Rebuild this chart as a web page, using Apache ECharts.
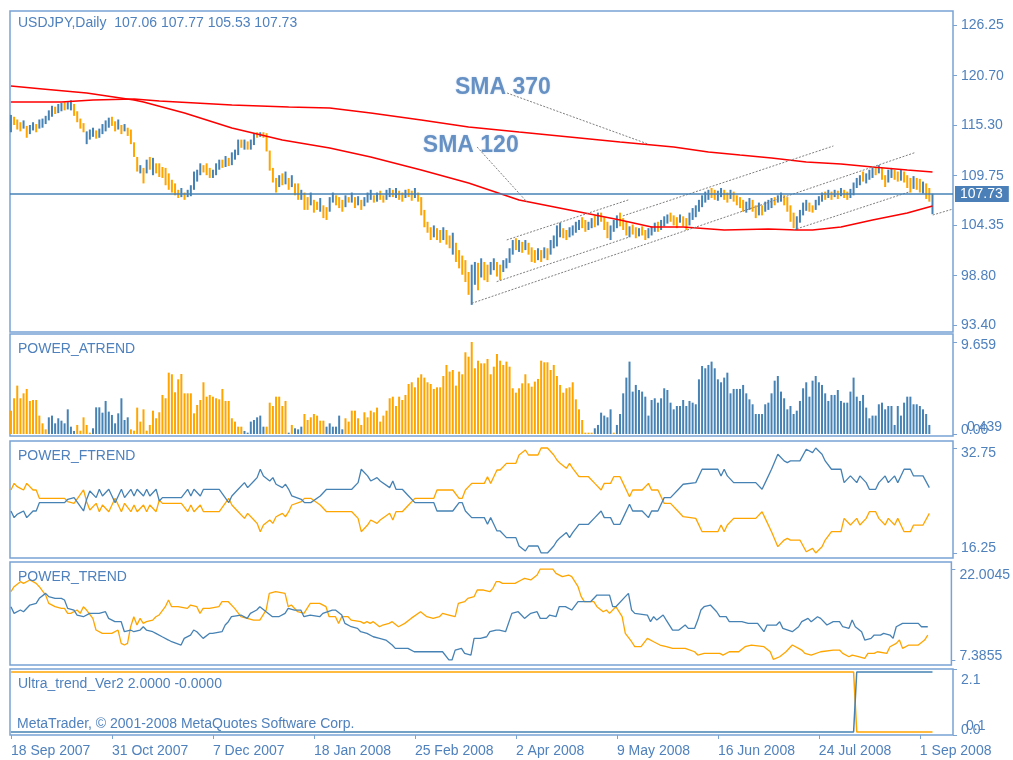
<!DOCTYPE html>
<html>
<head>
<meta charset="utf-8">
<title>USDJPY Daily</title>
<script src="https://cdn.jsdelivr.net/npm/echarts@6.0.0/dist/echarts.min.js"></script>
<style>
html, body { margin: 0; padding: 0; background: #fff; }
#chart { width: 1013px; height: 760px; }
</style>
</head>
<body>
<div id="chart"></div>
<script>
// ---- price bars (bar index 0..292) ----
var priceHigh = [
  116.4,116.2,115.9,115.6,115.8,115.2,115.3,115.6,115.4,115.9,
  116.0,116.3,116.9,117.4,117.3,117.6,117.7,117.8,117.8,118.0,
  117.6,116.8,116.0,115.5,114.6,114.8,115.0,114.7,114.9,115.4,
  115.8,116.1,116.2,115.7,115.9,115.3,115.4,115.0,114.8,113.4,
  111.8,110.9,110.6,111.5,111.8,111.7,111.1,111.1,110.7,110.6,
  110.0,109.3,108.9,108.2,108.4,107.9,108.2,108.7,110.2,110.4,
  111.1,110.9,111.1,110.6,110.4,111.1,111.5,111.5,111.9,111.7,
  112.3,112.6,113.7,113.7,113.7,113.5,113.7,114.4,114.5,114.5,
  114.5,114.4,112.5,110.6,109.5,109.8,110.0,110.2,109.5,109.8,
  108.9,108.9,108.2,107.9,107.4,107.9,107.1,106.9,107.3,106.5,
  106.3,107.4,107.9,107.6,107.4,107.1,107.6,107.4,107.9,107.4,
  107.5,107.1,107.4,107.9,108.2,107.6,107.9,108.1,107.6,108.2,
  108.4,108.2,108.4,108.1,107.9,108.2,108.3,108.1,108.4,107.9,
  107.4,106.0,104.7,104.1,104.3,104.0,103.8,104.1,103.8,103.2,
  103.5,102.4,101.6,101.0,100.5,99.2,100.0,100.3,100.2,100.7,
  100.3,100.0,100.3,100.7,100.3,100.0,100.5,100.7,101.8,102.7,
  102.9,102.7,102.5,102.7,102.4,101.9,101.6,101.8,101.6,101.9,
  101.8,102.7,103.2,104.3,104.6,104.0,103.8,104.1,104.3,104.7,
  104.9,105.2,104.9,104.7,105.1,105.4,105.7,105.7,105.2,104.7,
  104.3,104.9,105.4,105.7,105.1,104.7,104.2,104.4,104.1,104.0,
  104.2,103.8,104.0,104.2,104.6,104.7,104.9,105.3,105.5,105.7,
  105.4,105.2,105.5,105.3,105.1,105.7,106.2,106.5,107.1,107.6,
  108.0,108.2,108.4,108.2,108.1,108.4,108.2,107.9,108.2,108.0,
  107.6,107.4,107.1,106.9,107.3,107.1,106.5,106.8,106.5,106.9,
  107.1,107.3,107.4,107.6,107.9,107.6,107.4,106.5,105.7,105.3,
  106.0,106.8,107.1,106.8,106.5,107.1,107.5,107.9,108.0,108.2,
  108.0,108.2,108.1,108.4,108.2,108.0,108.3,109.0,109.5,109.8,
  110.2,110.0,110.4,110.6,110.7,110.9,110.6,109.8,110.4,110.6,
  110.4,110.2,110.4,110.2,109.8,109.5,109.7,109.5,109.4,109.1,
  108.9,108.4,107.77
];
var priceLow = [
  114.5,115.3,114.8,114.6,114.9,113.9,114.3,114.7,114.5,114.9,
  115.0,115.4,115.8,116.2,116.5,116.6,116.8,116.9,117.0,116.9,
  116.3,115.6,114.9,114.5,113.2,113.7,114.0,113.8,113.9,114.3,
  114.6,115.0,115.2,114.6,114.8,114.3,114.6,114.1,113.2,111.8,
  110.2,110.0,108.9,110.0,110.4,109.8,110.0,109.6,109.5,108.7,
  108.2,107.9,107.6,107.3,107.4,107.1,107.4,107.5,108.2,109.1,
  109.8,110.1,109.8,109.5,109.5,109.8,110.4,110.6,110.7,110.8,
  110.9,111.5,112.0,112.8,112.6,112.6,112.6,113.1,113.9,114.0,
  113.9,112.4,110.3,109.0,107.9,108.5,108.7,108.8,108.2,108.5,
  107.6,107.1,107.1,106.0,106.0,106.5,105.7,106.0,105.8,105.1,
  104.9,105.8,106.8,106.5,106.2,105.8,106.3,106.8,106.8,106.2,
  106.5,106.0,106.4,106.8,107.1,106.8,106.9,107.1,106.8,107.1,
  107.4,107.4,107.3,107.1,106.9,107.3,107.4,107.0,107.3,106.9,
  105.4,104.1,103.5,102.7,103.0,102.7,102.4,102.7,102.2,101.8,
  101.1,100.3,99.6,98.9,98.1,96.7,95.6,97.8,97.2,98.6,
  98.3,98.1,98.9,99.4,98.7,98.3,99.2,99.6,100.2,101.1,
  101.6,101.4,101.3,101.6,101.1,100.3,100.2,100.5,100.3,100.7,
  100.5,101.1,101.8,102.0,103.0,102.9,102.7,103.0,103.2,103.5,
  103.8,104.0,103.6,103.8,104.0,104.1,104.3,104.7,103.8,102.9,
  102.7,103.6,104.0,104.2,103.8,103.2,103.0,103.3,102.9,103.1,
  103.2,102.7,102.9,103.2,103.6,103.6,103.8,104.2,104.5,104.7,
  104.3,104.0,104.6,104.2,103.8,104.3,104.9,105.2,105.8,106.3,
  106.8,107.1,107.3,107.1,107.0,107.4,107.1,106.8,107.2,106.9,
  106.5,106.2,105.8,105.7,106.0,105.8,105.1,105.4,105.4,105.8,
  106.0,106.2,106.5,106.8,106.9,106.5,105.8,104.7,104.0,103.8,
  104.6,105.4,105.9,105.8,105.7,106.0,106.5,106.9,107.1,107.3,
  107.1,107.4,107.2,107.5,107.3,107.1,107.3,107.6,108.4,108.7,
  109.1,108.9,109.3,109.5,109.8,110.0,109.3,108.5,109.0,109.5,
  109.3,109.1,109.2,109.0,108.4,107.9,108.3,108.2,107.9,107.8,
  107.2,106.9,105.53
];
// u = bar closed up (blue), d = bar closed down (orange)
var barDir = [
  'uddduduudu','uuuuduuduu','dddduuuduu','uuddududdd','dudududddd',
  'dddduduuuu','uddduuudud','uuududuudu','dddddududu','ddudduddud',
  'duudddudud','uduuududdu','ududduddud','dddduddudd','uddddduudu',
  'dduudduuuu','dududddudu','duuuudduuu','udduududdd','uuuddduddu',
  'dduuuduuud','ddudduuuuu','uudduuddud','ddduuddudu','uuduuddddu',
  'uuudduuudu','dududduuuu','duuududduu','dduddduddu','ddu'
].join('');
var bidPrice = 107.73;

// moving averages (bar index / price)
var sma120Idx = [0,10,24,39,42,55,70,86,101,114,130,145,161,177,193,203,213,226,240,249,254,263,273,284,292];
var sma120 = [119.57,119.24,118.80,118.04,117.82,116.61,114.97,113.66,112.78,111.80,110.37,108.95,107.09,105.99,104.90,104.13,104.13,103.80,103.91,103.80,103.80,104.13,104.90,105.66,106.43];
var sma370Idx = [0,16,26,39,47,70,88,101,114,130,145,161,177,193,210,221,231,241,252,263,273,284,292];
var sma370 = [117.82,117.82,118.04,118.15,117.93,117.49,117.27,117.16,116.61,115.85,115.08,114.53,113.99,113.44,112.89,112.34,112.01,111.69,111.25,111.03,110.70,110.37,110.15];

// drawn trend lines: [fromIdx, fromPrice, toIdx, toPrice]
var channelLines = [
  [157.1,102.71,195.6,107.09],
  [153.9,98.14,195.5,102.98],
  [146.0,95.77,286.4,112.27],
  [193.9,105.34,260.6,113.00],
  [247.9,103.80,284.9,108.00],
  [292.1,105.44,298.5,106.10],
  [157.2,118.80,201.8,113.22],
  [147.7,112.89,163.5,106.87]
];
var noteText = ['SMA 370', 'SMA 120'];
var noteIdx = [140.7, 130.5];
var notePrice = [119.35, 113.0];

// POWER_ATREND histogram: positive = orange buffer, negative = blue buffer
var atrend = [
  2.45,3.75,5.08,3.75,4.27,4.73,3.47,3.57,3.57,1.93,
  1.12,0.49,-1.75,-1.93,-1.12,-1.65,-1.40,-1.12,-2.59,-0.77,
  -0.32,0.95,0.35,1.75,0.95,0.14,-0.60,-2.80,-2.80,-2.24,
  -3.47,-2.35,-2.00,-1.12,-2.17,-3.75,-1.47,-1.75,0.49,0.35,
  2.77,1.30,2.59,0.35,0.95,2.45,1.65,2.28,4.10,3.75,
  6.44,6.27,4.38,5.74,6.30,4.27,4.27,4.27,2.17,3.05,
  3.57,5.43,3.92,4.10,3.92,3.75,3.64,4.73,3.47,3.47,
  1.65,1.30,0.77,0.77,-0.32,-0.14,-1.30,-1.47,-1.75,-1.93,
  -0.77,0.77,3.29,2.94,3.92,3.92,2.94,3.47,-0.14,0.95,
  -0.60,-0.49,-0.77,2.10,1.47,1.75,2.10,1.93,1.40,1.40,
  -0.77,-1.12,-0.77,-0.77,-1.93,-0.49,1.65,1.30,2.45,2.45,
  1.65,0.95,2.28,1.75,2.45,2.28,2.77,1.30,1.93,2.45,
  3.75,3.92,2.94,3.92,3.57,4.10,5.25,5.43,4.90,5.92,
  6.27,5.92,5.43,5.25,4.73,4.90,4.90,6.09,7.25,6.55,
  6.72,5.08,6.55,6.27,8.58,8.12,9.659,6.90,7.70,7.42,
  7.42,7.88,6.27,7.07,8.40,7.70,7.25,7.60,7.07,4.80,
  4.34,4.80,5.32,6.27,5.32,4.97,5.50,5.78,7.70,7.53,
  7.53,6.72,7.25,6.09,5.15,4.34,4.80,4.90,5.43,3.64,
  2.59,1.47,0.14,0.14,0.14,-0.60,-0.95,-2.24,-1.93,-1.75,
  -2.59,0.14,-0.95,-2.10,-4.27,-5.92,-7.60,-4.45,-5.15,-4.62,
  -4.45,-3.92,-1.93,-3.57,-3.75,-3.29,-3.75,-4.80,-4.62,-3.29,
  -2.59,-2.94,-2.94,-3.57,-2.94,-3.47,-3.29,-3.12,-5.74,-7.14,
  -6.90,-7.25,-7.60,-6.90,-5.74,-5.43,-5.92,-6.44,-4.27,-4.73,
  -4.73,-4.73,-5.15,-4.27,-3.64,-3.12,-2.10,-2.10,-2.10,-3.12,
  -3.29,-4.27,-5.60,-6.09,-4.45,-3.75,-2.59,-2.94,-2.10,-2.45,
  -3.47,-4.80,-5.43,-3.92,-5.60,-6.09,-5.43,-5.15,-4.27,-3.47,
  -4.10,-4.10,-4.62,-3.47,-3.29,-3.29,-4.45,-5.92,-3.92,-3.47,
  -4.10,-2.77,-1.65,-1.93,-1.93,-3.12,-3.29,-2.59,-2.94,-2.94,
  -0.95,-2.94,-1.93,-3.29,-3.92,-3.92,-3.12,-3.12,-2.94,-2.59,
  -2.10,-0.95
];

// POWER_FTREND
var ftIdx = [
  0,1,2,3,4,5,7,8,9,17, 18,20,23,24,25,27,28,29,31,32,
  33,34,35,36,38,39,40,42,43,44, 46,47,48,54,56,57,58,60,61,66,
  69,70,72,74,75,77,78,79,80,82, 83,84,86,87,88,89,92,93,95,98,
  100,108,110,111,113,114,116,117,120,121, 122,124,126,128,134,135,140,142,143,144,
  146,150,151,152,153,154,155,157,160,161, 163,164,167,168,170,172,173,174,176,177,
  178,180,183,185,187,188,190,191,193,194, 196,197,200,202,203,205,207,209,211,213,
  217,219,224,225,226,227,229,236,238,239, 241,243,245,246,247,250,252,254,255,257,
  258,260,263,264,266,268,269,271,272,274, 275,277,278,280,281,282,283,285,286,289,
  291
];
var ftOrange = [
  26.15,27.19,26.67,26.41,26.15,27.19,26.15,26.15,24.84,24.84, 24.31,24.05,26.15,24.31,23.00,24.05,22.74,23.79,22.74,23.79,
  24.84,23.79,22.74,24.05,22.74,23.79,22.74,23.79,22.74,23.79, 22.74,24.57,24.05,24.05,22.74,23.79,22.74,23.79,22.74,22.74,
  24.84,23.79,22.74,21.69,22.48,21.43,20.91,19.59,20.64,21.43, 20.91,21.95,22.48,21.95,22.74,23.79,24.31,24.84,24.84,23.79,
  22.74,22.74,21.69,19.59,20.64,21.43,20.91,21.43,22.48,21.43, 22.74,22.74,23.79,24.84,24.84,26.15,26.15,24.84,24.84,26.15,
  27.19,27.19,28.24,27.19,28.24,29.29,29.29,30.34,30.34,31.65, 32.44,31.65,31.65,32.75,32.75,31.65,30.86,30.34,29.55,30.34,
  29.55,28.24,28.24,27.19,26.15,27.19,27.19,28.24,28.24,27.19, 25.10,26.15,26.15,27.19,26.15,26.15,24.05,24.05,23.00,21.95,
  21.69,19.59,19.59,20.64,19.59,20.64,21.69,21.69,22.74,21.69, 19.59,17.24,18.28,18.55,18.28,18.28,16.45,16.97,16.25,17.24,
  18.28,19.59,19.59,21.69,20.64,21.69,20.64,21.69,22.74,22.74, 21.69,20.64,21.69,20.64,21.69,20.64,19.59,19.59,20.64,20.64,
  22.48
];
var ftBlue = [
  22.85,21.81,22.33,22.59,22.85,21.81,22.85,22.85,24.16,24.16, 24.69,24.95,22.85,24.69,26.00,24.95,26.26,25.21,26.26,25.21,
  24.16,25.21,26.26,24.95,26.26,25.21,26.26,25.21,26.26,25.21, 26.26,24.43,24.95,24.95,26.26,25.21,26.26,25.21,26.26,26.26,
  24.16,25.21,26.26,27.31,26.52,27.57,28.09,29.41,28.36,27.57, 28.09,27.05,26.52,27.05,26.26,25.21,24.69,24.16,24.16,25.21,
  26.26,26.26,27.31,29.41,28.36,27.57,28.09,27.57,26.52,27.57, 26.26,26.26,25.21,24.16,24.16,22.85,22.85,24.16,24.16,22.85,
  21.81,21.81,20.76,21.81,20.76,19.71,19.71,18.66,18.66,17.35, 16.56,17.35,17.35,16.25,16.25,17.35,18.14,18.66,19.45,18.66,
  19.45,20.76,20.76,21.81,22.85,21.81,21.81,20.76,20.76,21.81, 23.90,22.85,22.85,21.81,22.85,22.85,24.95,24.95,26.00,27.05,
  27.31,29.41,29.41,28.36,29.41,28.36,27.31,27.31,26.26,27.31, 29.41,31.76,30.72,30.45,30.72,30.72,32.55,32.03,32.75,31.76,
  30.72,29.41,29.41,27.31,28.36,27.31,28.36,27.31,26.26,26.26, 27.31,28.36,27.31,28.36,27.31,28.36,29.41,29.41,28.36,28.36,
  26.52
];

// POWER_TREND
var trOrangeIdx = [
  0,1,3,4,6,8,9,11,12,14, 16,17,18,19,21,22,23,24,26,27,
  29,32,34,35,36,37,38,39,40,41, 42,43,45,46,47,49,50,51,53,56,
  57,59,60,61,63,66,67,69,71,73, 75,77,79,81,82,84,87,88,89,91,
  93,94,95,98,100,101,103,104,105,107, 108,111,112,113,114,115,117,118,120,121,
  123,125,127,130,132,134,136,137,139,141, 142,144,145,147,148,150,152,153,154,155,
  156,160,162,163,165,167,168,172,173,175, 177,178,180,181,182,185,186,188,189,190,
  192,194,195,197,198,200,202,204,206,208, 210,214,217,218,220,225,226,228,231,233,
  235,239,241,242,244,246,248,250,251,252, 254,257,261,263,264,266,267,269,271,272,
  274,275,278,279,281,282,283,285,288,290, 291
];
var trOrange = [
  18.36,19.16,19.97,19.70,20.24,19.70,19.16,17.82,16.48,15.95, 15.68,15.68,14.88,14.88,15.41,14.88,15.95,15.41,14.07,12.20,
  11.66,11.66,12.20,10.05,9.79,10.05,12.73,14.34,13.00,14.07, 13.27,13.54,13.80,14.34,14.61,15.95,17.02,15.95,15.95,15.68,
  16.22,15.95,14.88,15.68,15.68,15.95,16.75,16.75,15.68,14.34, 14.07,13.80,13.80,15.41,18.09,18.36,18.09,15.95,16.22,15.14,
  14.88,15.68,16.48,16.48,15.95,14.34,14.34,13.27,14.34,14.34, 13.80,13.54,13.27,13.54,13.27,13.54,12.73,13.00,13.27,13.54,
  12.73,13.27,14.07,15.14,14.34,14.07,14.34,14.88,14.61,14.34, 16.48,16.75,17.29,17.56,18.63,18.63,18.36,18.90,19.97,19.97,
  19.70,19.70,20.24,20.50,20.24,21.04,22.00,22.00,21.31,20.77, 21.04,20.77,19.16,17.56,16.75,16.75,15.95,15.14,15.41,14.88,
  15.95,14.34,11.66,10.32,9.52,9.52,10.86,10.32,9.79,9.52, 9.25,9.25,8.71,8.18,8.45,8.45,8.18,8.71,8.71,9.52,
  9.79,9.52,8.71,7.48,7.91,8.71,9.79,9.25,8.98,8.45, 8.18,8.71,8.98,8.98,8.45,7.91,8.18,7.91,7.64,8.45,
  8.45,8.71,8.45,9.52,10.05,10.59,9.25,9.79,9.79,10.59, 11.39
];
var trBlueIdx = [
  0,1,3,4,6,8,9,11,12,14, 16,17,18,20,21,23,25,28,30,31,
  33,35,36,38,39,41,42,43,45,46, 48,50,51,54,55,57,58,59,61,63,
  64,67,68,69,70,73,75,76,78,79, 81,83,85,87,88,90,92,93,95,98,
  99,102,103,105,106,108,110,111,113,115, 117,119,121,122,124,126,128,137,139,140,
  141,143,144,146,147,149,151,152,154,155, 157,159,161,162,163,165,167,168,170,171,
  173,174,176,178,180,181,184,186,190,191, 192,195,196,197,198,202,203,204,205,207,
  208,209,210,212,214,215,217,218,219,220, 222,224,225,227,228,230,232,234,237,239,
  240,243,244,245,248,250,251,253,254,256, 257,259,261,263,264,266,267,268,270,271,
  273,274,276,277,279,280,281,283,288,289, 291
];
var trBlue = [
  15.95,14.88,15.41,15.14,16.22,16.48,17.29,18.09,17.56,17.29, 17.29,17.02,15.68,15.41,14.61,14.34,14.88,14.88,15.14,14.07,
  13.54,13.54,11.93,12.20,11.93,12.20,12.73,12.20,11.93,11.66, 11.12,10.59,10.32,9.79,10.86,11.39,12.20,11.93,10.86,11.66,
  11.66,11.93,13.00,13.54,14.34,14.61,14.07,14.88,15.41,15.95, 15.14,14.34,14.34,14.88,15.68,15.41,15.41,14.34,14.61,14.34,
  14.88,15.41,15.41,14.61,13.27,12.73,12.47,11.93,11.66,11.12, 10.86,10.59,9.79,9.25,9.25,9.25,8.71,8.71,7.39,7.39,
  8.98,9.25,8.45,8.18,10.86,10.86,11.12,11.93,12.20,12.20, 11.93,14.88,15.14,14.61,14.07,14.88,15.14,14.07,14.07,14.61,
  14.34,15.95,15.95,15.41,16.75,16.75,16.75,17.82,17.82,15.95, 15.95,17.56,18.09,15.41,14.88,14.61,13.54,14.34,13.80,14.61,
  13.80,13.00,12.20,12.20,13.00,12.47,12.47,13.80,15.41,15.95, 16.22,15.14,14.34,14.34,13.54,13.54,13.54,13.27,13.27,11.93,
  13.00,13.00,13.54,12.47,11.93,12.73,13.54,14.07,13.54,14.34, 14.07,13.00,13.54,13.54,12.73,12.47,13.80,12.73,11.93,10.59,
  10.86,11.39,11.39,11.66,11.39,10.86,12.73,13.27,13.27,12.73, 12.73
];

// Ultra_trend_Ver2
var ultraIdx = [0, 267, 268, 292];
var ultraOrange = [2, 2, 0, 0];
var ultraBlue = [0, 0, 2, 2];

// axes
var tickIdx = [0, 32, 64, 96, 128, 160, 192, 224, 256, 288];
var dateLabels = ['18 Sep 2007','31 Oct 2007','7 Dec 2007','18 Jan 2008','25 Feb 2008','2 Apr 2008','9 May 2008','16 Jun 2008','24 Jul 2008','1 Sep 2008'];
var priceTicks = [126.25, 120.70, 115.30, 109.75, 104.35, 98.80, 93.40];

var FONT = 'Liberation Sans';
var TXT = '#4f81bd';
var FRAME = '#7aa2d3';
var BLUE = '#4682b4';
var ORANGE = '#ffa500';
var RED = '#ff0000';

var panels = [
  {top: 11, height: 321},
  {top: 334, height: 102},
  {top: 441, height: 117},
  {top: 562, height: 103},
  {top: 669, height: 66}
];

function nearest(list, v) {
  var best = 0;
  for (var k = 1; k < list.length; k++) {
    if (Math.abs(list[k] - v) < Math.abs(list[best] - v)) best = k;
  }
  return best;
}
function pairs(xs, ys) {
  return xs.map(function (x, k) { return [x, ys[k]]; });
}

function axisX(g) {
  var last = g === 4;
  return {
    type: 'value', gridIndex: g, min: -0.3, max: 298.5, show: last,
    axisLine: {show: false, onZero: false},
    splitLine: {show: false},
    axisTick: {show: last, customValues: tickIdx, length: 4, lineStyle: {color: FRAME}},
    axisLabel: {
      show: last, customValues: tickIdx, align: 'left', margin: 9, hideOverlap: false,
      color: TXT, fontFamily: FONT, fontSize: 14,
      formatter: function (v) { return dateLabels[nearest(tickIdx, v)]; }
    }
  };
}

// shifts: [dx, dy] in px, MT4 nudges the edge labels inward
function axisY(g, min, max, values, texts, shifts, noTicks) {
  var rich = {};
  shifts.forEach(function (s, k) {
    rich['s' + k] = {
      color: TXT, fontFamily: FONT, fontSize: 14,
      padding: [Math.max(2 * s[1], 0), 0, Math.max(-2 * s[1], 0), s[0]]
    };
  });
  return {
    type: 'value', gridIndex: g, position: 'right', min: min, max: max,
    axisLine: {show: false, onZero: false}, splitLine: {show: false},
    axisTick: {show: !noTicks, customValues: values, length: 4, lineStyle: {color: FRAME}},
    axisLabel: {
      customValues: values, margin: 8, hideOverlap: false,
      color: TXT, fontFamily: FONT, fontSize: 14,
      formatter: function (v) { var k = nearest(values, v); return '{s' + k + '|' + texts[k] + '}'; },
      rich: rich
    }
  };
}

function lineSeries(g, data, color, width, z) {
  return {
    type: 'line', xAxisIndex: g, yAxisIndex: g, data: data,
    symbol: 'none', silent: true, z: z || 3,
    lineStyle: {color: color, width: width}
  };
}

var series = [];

// price bars
series.push({
  type: 'custom', xAxisIndex: 0, yAxisIndex: 0, silent: true, z: 2,
  data: priceHigh.map(function (h, i) { return [i, priceLow[i], h, barDir[i] === 'u' ? 1 : 0]; }),
  encode: {x: 0, y: [1, 2]},
  renderItem: function (params, api) {
    var lo = api.coord([api.value(0), api.value(1)]);
    var hi = api.coord([api.value(0), api.value(2)]);
    return {
      type: 'line',
      shape: {x1: lo[0], y1: lo[1], x2: hi[0], y2: hi[1]},
      style: {stroke: api.value(3) ? BLUE : ORANGE, lineWidth: 2}
    };
  }
});

var sma120Series = lineSeries(0, pairs(sma120Idx, sma120), RED, 1.5, 3);
sma120Series.markLine = {
  symbol: 'none', silent: true, animation: false,
  data: [{yAxis: bidPrice}],
  lineStyle: {color: BLUE, width: 1.5, type: 'solid'},
  label: {
    position: 'end', distance: 2, formatter: bidPrice.toFixed(2),
    backgroundColor: '#4a7fb8', color: '#fff', padding: [1, 6, 0, 5],
    fontFamily: FONT, fontSize: 14, lineHeight: 15
  }
};
series.push(sma120Series);
series.push(lineSeries(0, pairs(sma370Idx, sma370), RED, 1.5, 3));

channelLines.forEach(function (c) {
  var s = lineSeries(0, [[c[0], c[1]], [c[2], c[3]]], '#808080', 1, 4);
  s.lineStyle.type = [2, 1.5];
  series.push(s);
});

series.push({
  type: 'scatter', xAxisIndex: 0, yAxisIndex: 0, silent: true, z: 5,
  symbolSize: 0,
  data: noteText.map(function (t, k) { return {name: t, value: [noteIdx[k], notePrice[k]]}; }),
  label: {
    show: true, position: 'right', distance: 0,
    formatter: '{b}', color: '#4a7cb8', fontFamily: FONT, fontSize: 23, fontWeight: 'bold',
    textShadowColor: 'rgba(120,160,210,0.45)', textShadowBlur: 2
  }
});

// histogram
series.push({
  type: 'custom', xAxisIndex: 1, yAxisIndex: 1, silent: true, z: 2,
  data: atrend.map(function (v, i) { return [i, v]; }),
  encode: {x: 0, y: 1},
  renderItem: function (params, api) {
    var v = api.value(1);
    var b = api.coord([api.value(0), 0]);
    var t = api.coord([api.value(0), Math.abs(v)]);
    return {
      type: 'line',
      shape: {x1: b[0], y1: b[1], x2: t[0], y2: t[1]},
      style: {stroke: v > 0 ? ORANGE : BLUE, lineWidth: 2}
    };
  }
});

series.push(lineSeries(2, pairs(ftIdx, ftOrange), ORANGE, 1.3));
series.push(lineSeries(2, pairs(ftIdx, ftBlue), BLUE, 1.3));
series.push(lineSeries(3, pairs(trOrangeIdx, trOrange), ORANGE, 1.3));
series.push(lineSeries(3, pairs(trBlueIdx, trBlue), BLUE, 1.3));
series.push(lineSeries(4, pairs(ultraIdx, ultraOrange), ORANGE, 1.5));
series.push(lineSeries(4, pairs(ultraIdx, ultraBlue), BLUE, 1.5));

var titleStyle = {color: TXT, fontFamily: FONT, fontSize: 14, fontWeight: 'normal'};
function caption(text, left, top) {
  return {text: text, left: left, top: top, padding: 0, textStyle: titleStyle};
}

var chart = echarts.init(document.getElementById('chart'), null, {renderer: 'canvas'});
chart.setOption({
  backgroundColor: '#ffffff',
  animation: false,
  title: [
    caption('USDJPY,Daily  107.06 107.77 105.53 107.73', 18, 16),
    caption('POWER_ATREND', 18, 342),
    caption('POWER_FTREND', 18, 449),
    caption('POWER_TREND', 18, 570),
    caption('Ultra_trend_Ver2 2.0000 -0.0000', 18, 677),
    caption('MetaTrader, \u00a9 2001-2008 MetaQuotes Software Corp.', 17, 717)
  ],
  grid: panels.map(function (p) {
    return {left: 10, width: 943, top: p.top, height: p.height, show: true,
      borderColor: FRAME, borderWidth: 1.5, backgroundColor: '#ffffff'};
  }),
  xAxis: [0, 1, 2, 3, 4].map(axisX),
  yAxis: [
    axisY(0, 92.63, 127.78, priceTicks, priceTicks.map(function (v) { return v.toFixed(2); }),
      priceTicks.map(function () { return [0, 0]; })),
    axisY(1, -0.21, 10.50, [9.659, 0], ['9.659', '0.00'], [[0, 3], [0, -4]]),
    axisY(1, -0.21, 10.50, [0.439], ['0.439'], [[6, -3]], true),
    axisY(2, 15.46, 33.85, [32.75, 16.25], ['32.75', '16.25'], [[0, 5], [0, -5]]),
    axisY(3, 6.582, 23.129, [22.0045, 7.3855], ['22.0045', '7.3855'], [[0, 6], [0, -4]]),
    axisY(4, -0.1, 2.1, [2.1, -0.1], ['2.1', '0.0'], [[0, 11], [0, -5]]),
    axisY(4, -0.1, 2.1, [-0.1], ['0.1'], [[5, -9]], true)
  ],
  series: series.map(function (s) {
    // each indicator window has its own y axis; the extra label axes sit after them
    if (s.yAxisIndex >= 2) s.yAxisIndex = s.yAxisIndex + 1;
    return s;
  })
});
</script>
</body>
</html>
